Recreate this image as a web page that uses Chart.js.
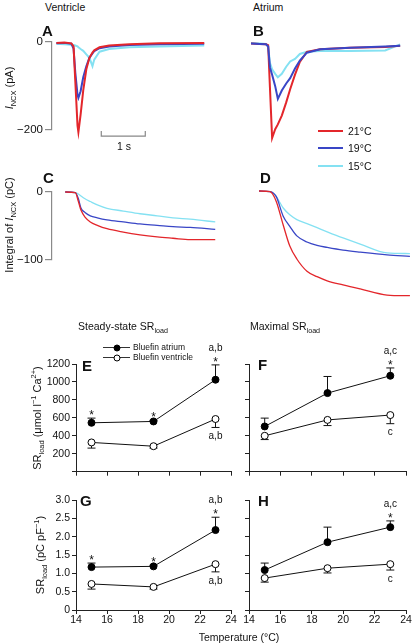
<!DOCTYPE html>
<html><head><meta charset="utf-8">
<script src="https://cdn.jsdelivr.net/npm/chart.js@4.4.1/dist/chart.umd.min.js"></script>
<style>
html,body{margin:0;padding:0;background:#fff;}
body{width:420px;height:643px;position:relative;overflow:hidden;font-family:"Liberation Sans",Arial,Helvetica,sans-serif;color:#111;}
canvas{position:absolute;}
.t{position:absolute;white-space:nowrap;line-height:1;transform:translateY(-50%);}
.c{position:absolute;white-space:nowrap;line-height:1;transform:translate(-50%,-50%);}
.rot{position:absolute;white-space:nowrap;line-height:1;transform:translate(-50%,-50%) rotate(-90deg);}
.pl{position:absolute;font-weight:bold;font-size:15px;line-height:1;transform:translateY(-50%);}
sub,sup{font-size:68%;line-height:0;}
.ln{position:absolute;height:0;}
.dot{position:absolute;width:7px;height:7px;border-radius:50%;box-sizing:border-box;border:1px solid #000;transform:translate(-50%,-50%);}
</style></head><body>
<canvas id="cA"></canvas><canvas id="cB"></canvas><canvas id="cC"></canvas><canvas id="cD"></canvas>
<canvas id="cE"></canvas><canvas id="cF"></canvas><canvas id="cG"></canvas><canvas id="cH"></canvas>

<div class="t" style="left:45px;top:7px;font-size:10.5px">Ventricle</div>
<div class="t" style="left:253px;top:7px;font-size:10.5px">Atrium</div>
<div class="pl" style="left:42px;top:30px">A</div>
<div class="pl" style="left:253px;top:30px">B</div>
<div class="pl" style="left:43px;top:177px">C</div>
<div class="pl" style="left:260px;top:177px">D</div>
<div class="pl" style="left:82px;top:365px">E</div>
<div class="pl" style="left:258px;top:364px">F</div>
<div class="pl" style="left:80px;top:500px">G</div>
<div class="pl" style="left:258px;top:500px">H</div>

<div class="rot" style="left:9px;top:88px;font-size:11px"><i>I</i><sub>NCX</sub> (pA)</div>
<div class="rot" style="left:9px;top:225px;font-size:11px">Integral of <i>I</i><sub>NCX</sub> (pC)</div>
<div class="rot" style="left:37px;top:418px;font-size:11px">SR<sub>load</sub> (μmol l<sup>−1</sup> Ca<sup>2+</sup>)</div>
<div class="rot" style="left:40px;top:555px;font-size:11px">SR<sub>load</sub> (pC pF<sup>−1</sup>)</div>
<div class="c" style="left:239px;top:637px;font-size:10.5px">Temperature (°C)</div>
<div class="c" style="left:124px;top:146px;font-size:10.5px">1 s</div>

<div class="t" style="left:78px;top:326px;font-size:10.5px">Steady-state SR<sub>load</sub></div>
<div class="t" style="left:250px;top:326px;font-size:10.5px">Maximal SR<sub>load</sub></div>

<div class="ln" style="left:318px;top:130px;width:25px;border-top:2px solid #e3262b"></div>
<div class="t" style="left:348px;top:131px;font-size:10.5px">21°C</div>
<div class="ln" style="left:318px;top:147px;width:25px;border-top:2px solid #3946c6"></div>
<div class="t" style="left:348px;top:148px;font-size:10.5px">19°C</div>
<div class="ln" style="left:318px;top:165px;width:25px;border-top:2px solid #84e1f2"></div>
<div class="t" style="left:348px;top:166px;font-size:10.5px">15°C</div>

<div class="ln" style="left:103px;top:347px;width:27px;border-top:1px solid #333"></div>
<div class="dot" style="left:117px;top:347.5px;background:#000"></div>
<div class="t" style="left:133px;top:347px;font-size:8.5px">Bluefin atrium</div>
<div class="ln" style="left:103px;top:357px;width:27px;border-top:1px solid #333"></div>
<div class="dot" style="left:117px;top:357.5px;background:#fff"></div>
<div class="t" style="left:133px;top:357px;font-size:8.5px">Bluefin ventricle</div>

<script>
// ---------- Data ----------
// Panel A (ventricle I_NCX, pA) vs time (s)
const tA    = [0, 0.18, 0.34, 0.39, 0.43, 0.48, 0.50, 0.55, 0.61, 0.68, 0.75, 0.82, 0.86, 0.98, 1.20, 1.66, 2.34, 3.36];
const aRed  = [-2, -1, -3, -10, -90, -190, -205, -165, -110, -62, -36, -24, -19, -12, -8, -5, -3, -2];
const aBlue = [-3, -2, -4, -15, -70, -120, -127, -112, -80, -55, -36, -26, -21, -14, -10, -7, -5, -4];
const aCyan = [-4, -5, -6, -7, -8, -10, -12, -16, -20, -28, -36, -55, -40, -22, -16, -12, -10, -8];
const scaleBarT  = [1.02, 1.02, 2.02, 2.02];
const scaleBarPA = [-202, -214, -214, -202];

// Panel B (atrium I_NCX, pA)
const tB    = [0, 0.20, 0.34, 0.39, 0.43, 0.48, 0.55, 0.61, 0.70, 0.80, 0.89, 1.00, 1.11, 1.27, 1.57, 2.25, 3.05, 3.39];
const bRed  = [-1, -2, -3, -5, -100, -216, -196, -185, -165, -135, -105, -72, -43, -20, -14, -11, -9, -6];
const bBlue = [-1, -2, -3, -8, -55, -72, -98, -127, -108, -92, -80, -58, -40, -22, -14, -11, -8, -6];
const bCyan = [0, -1, -2, -8, -45, -60, -70, -78, -70, -54, -42, -36, -25, -20, -18, -18, -17, -3];

// Panel C (ventricle integral, pC)
const tC    = [0, 0.23, 0.30, 0.36, 0.45, 0.57, 0.73, 0.95, 1.32, 1.70, 2.09, 2.45, 2.84, 3.41];
const cRed  = [0, -1, -14, -27, -37, -44, -49, -54, -59, -63, -66, -68, -70, -70];
const cBlue = [0, -1, -10, -24, -30, -35, -38, -41, -44, -47, -49, -51, -52, -55];
const cCyan = [0, -1, -3, -6, -10, -14, -19, -24, -28, -32, -35, -38, -40, -44];

// Panel D (atrium integral, pC)
const tD    = [0, 0.25, 0.39, 0.55, 0.70, 0.86, 1.09, 1.32, 1.55, 1.91, 2.30, 2.91, 3.43];
const dRed  = [0, -1, -15, -50, -81, -100, -118, -126, -132, -138, -144, -153, -154];
const dBlue = [0, -1, -8, -37, -52, -66, -75, -80, -83, -87, -90, -94, -96];
const dCyan = [0, -1, -8, -25, -35, -42, -48, -54, -60, -69, -78, -91, -92];

// Panels E-H: temperature (°C)
const temps = [15, 19, 23];
// E steady-state SRload (µmol l-1 Ca2+)
const eAtrium = [545, 560, 1025], eAtriumErr = [52, 12, 165];
const eVent   = [326, 284, 587],  eVentErr   = [63, 21, 94];
const eAtriumStar = ['*', '*', '*'], eAtriumLetters = ['', '', 'a,b'], eVentLetters = ['', '', 'a,b'];
// F maximal SRload (µmol l-1 Ca2+)
const fAtrium = [504, 876, 1069], fAtriumErr = [93, 185, 87];
const fVent   = [400, 577, 631],  fVentErr   = [42, 63, 96];
const fAtriumStar = ['', '', '*'], fAtriumLetters = ['', '', 'a,c'], fVentLetters = ['', '', 'c'];
// G steady-state SRload (pC pF-1)
const gAtrium = [1.17, 1.19, 2.18], gAtriumErr = [0.11, 0.03, 0.35];
const gVent   = [0.71, 0.63, 1.25], gVentErr   = [0.14, 0.06, 0.21];
const gAtriumStar = ['*', '*', '*'], gAtriumLetters = ['', '', 'a,b'], gVentLetters = ['', '', 'a,b'];
// H maximal SRload (pC pF-1)
const hAtrium = [1.09, 1.85, 2.26], hAtriumErr = [0.19, 0.41, 0.17];
const hVent   = [0.87, 1.14, 1.25], hVentErr   = [0.11, 0.13, 0.16];
const hAtriumStar = ['', '', '*'], hAtriumLetters = ['', '', 'a,c'], hVentLetters = ['', '', 'c'];

// ---------- Helpers ----------
const FONT = '"Liberation Sans", Arial, Helvetica, sans-serif';
const RED = '#e3262b', BLUE = '#3946c6', CYAN = '#84e1f2';
function pts(xs, ys){ return xs.map((x,i)=>({x:x, y:ys[i]})); }
function place(id, L, T, W, H){
  const c = document.getElementById(id);
  c.width = W; c.height = H;
  c.style.left = L+'px'; c.style.top = T+'px'; c.style.width = W+'px'; c.style.height = H+'px';
  return c;
}
function traceDs(xs, ys, color, w, smooth){
  return {data: pts(xs, ys), borderColor: color, borderWidth: w, pointRadius: 0, fill: false, clip: false,
          tension: 0, cubicInterpolationMode: smooth ? 'monotone' : 'default'};
}
const baseOpts = {responsive:false, animation:false, devicePixelRatio:1, events:[],
  plugins:{legend:{display:false}, tooltip:{enabled:false}}};

function traceChart(id, box, pad, xr, yr, datasets, yAxis){
  const c = place(id, box[0], box[1], box[2], box[3]);
  const yScale = yAxis ? {
      type:'linear', min:yr[0], max:yr[1], display:true,
      ticks:{stepSize: yAxis.step, font:{family:FONT, size:11.5}, color:'#111', padding:2,
             callback: v => v === 0 ? '0' : '\u2212' + Math.abs(v)},
      grid:{display:true, drawOnChartArea:false, drawTicks:true, tickLength:7, color:'#8a8a8a', lineWidth:1.2},
      border:{display:true, color:'#8a8a8a', width:1.2},
      afterFit: s => { s.width = yAxis.width; }
    } : {type:'linear', min:yr[0], max:yr[1], display:false};
  return new Chart(c, {type:'line', data:{datasets:datasets},
    options: Object.assign({}, baseOpts, {
      layout:{padding:pad},
      scales:{x:{type:'linear', min:xr[0], max:xr[1], display:false}, y:yScale}
    })});
}

// Error bar + annotation plugin (uses chart scales)
const errPlugin = {
  id:'errbars',
  beforeDatasetsDraw(chart){
    const o = chart.options.plugins.errbars; if(!o || !o.groups) return;
    const ctx = chart.ctx, xs = chart.scales.x, ys = chart.scales.y;
    ctx.save(); ctx.strokeStyle = '#111'; ctx.lineWidth = 1;
    o.groups.forEach(g => g.vals.forEach((v,i) => {
      const e = g.errs[i]; if(!e) return;
      const x = xs.getPixelForValue(temps[i]);
      const y0 = ys.getPixelForValue(v), y1 = ys.getPixelForValue(v + g.dir*e);
      ctx.beginPath(); ctx.moveTo(x, y0); ctx.lineTo(x, y1);
      ctx.moveTo(x-4, y1); ctx.lineTo(x+4, y1); ctx.stroke();
    }));
    ctx.restore();
  },
  afterDatasetsDraw(chart){
    const o = chart.options.plugins.errbars; if(!o || !o.groups) return;
    const ctx = chart.ctx, xs = chart.scales.x, ys = chart.scales.y;
    ctx.save(); ctx.fillStyle = '#111'; ctx.textAlign = 'center';
    o.groups.forEach(g => g.vals.forEach((v,i) => {
      const x = xs.getPixelForValue(temps[i]);
      const yEnd = ys.getPixelForValue(v + g.dir*(g.errs[i]||0));
      if(g.dir > 0){
        let yc = yEnd - 6;
        if(g.star && g.star[i]){
          ctx.font = '12px ' + FONT; ctx.textBaseline = 'alphabetic';
          ctx.fillText(g.star[i], x, yc + 7);
          yc -= 11;
        }
        if(g.letters && g.letters[i]){
          ctx.font = '10px ' + FONT; ctx.textBaseline = 'middle';
          ctx.fillText(g.letters[i], x, yc);
        }
      } else if(g.letters && g.letters[i]){
        ctx.font = '10px ' + FONT; ctx.textBaseline = 'middle';
        ctx.fillText(g.letters[i], x, yEnd + 9);
      }
    }));
    ctx.restore();
  }
};

function srChart(id, box, pad, yMax, yStep, yW, xH, showY, showX, atr, atrErr, ven, venErr, star, aLet, vLet){
  const c = place(id, box[0], box[1], box[2], box[3]);
  const fmtY = v => v === 0 ? (yStep < 1 ? '0' : '') : (yStep < 1 ? v.toFixed(1) : String(v));
  return new Chart(c, {type:'line',
    data:{datasets:[
      {data: pts(temps, atr), borderColor:'#111', borderWidth:1, tension:0, clip:false,
       pointRadius:3.5, pointBackgroundColor:'#000', pointBorderColor:'#000', pointBorderWidth:1},
      {data: pts(temps, ven), borderColor:'#111', borderWidth:1, tension:0, clip:false,
       pointRadius:3.5, pointBackgroundColor:'#fff', pointBorderColor:'#000', pointBorderWidth:1}
    ]},
    options: Object.assign({}, baseOpts, {
      layout:{padding:pad},
      plugins:{legend:{display:false}, tooltip:{enabled:false},
        errbars:{groups:[
          {vals:atr, errs:atrErr, dir:1, star:star, letters:aLet},
          {vals:ven, errs:venErr, dir:-1, letters:vLet}
        ]}},
      scales:{
        x:{type:'linear', min:14, max:24,
           ticks:{stepSize:2, autoSkip:false, maxRotation:0, padding:0, font:{family:FONT, size:10.5}, color:'#111',
                  callback: v => showX ? String(v) : ''},
           grid:{drawOnChartArea:false, drawTicks:true, tickLength:4, color:'#222', lineWidth:1},
           border:{display:true, color:'#222', width:1},
           afterFit: s => { s.height = xH; }},
        y:{type:'linear', min:0, max:yMax,
           ticks:{stepSize:yStep, autoSkip:false, padding:2, font:{family:FONT, size:10.5}, color:'#111',
                  callback: v => showY ? fmtY(v) : ''},
           grid:{drawOnChartArea:false, drawTicks:true, tickLength:4, color:'#222', lineWidth:1},
           border:{display:true, color:'#222', width:1},
           afterFit: s => { s.width = yW; }}
      }
    }),
    plugins:[errPlugin]});
}

// ---------- Charts ----------
traceChart('cA', [0,30,220,130], {left:0, right:9.6, top:12, bottom:30}, [-0.1, 3.5], [-200, 0], [
  {data: pts(scaleBarT, scaleBarPA), borderColor:'#888', borderWidth:1.2, pointRadius:0, tension:0, clip:false},
  traceDs(tA, aRed, RED, 2, false),
  traceDs(tA, aBlue, BLUE, 2, false),
  traceDs(tA, aCyan, CYAN, 2, false)
], {step:200, width:52});

traceChart('cB', [240,30,180,130], {left:6.6, right:15, top:13, bottom:29}, [-0.1, 3.5], [-200, 0], [
  traceDs(tB, bBlue, BLUE, 2, false),
  traceDs(tB, bRed, RED, 2, false),
  traceDs(tB, bCyan, CYAN, 2, false)
], null);

traceChart('cC', [0,170,230,110], {left:0, right:10.8, top:22, bottom:20}, [-0.3, 3.5], [-100, 0], [
  traceDs(tC, cRed, RED, 1.3, true),
  traceDs(tC, cBlue, BLUE, 1.3, true),
  traceDs(tC, cCyan, CYAN, 1.3, true)
], {step:100, width:52});

traceChart('cD', [240,170,180,140], {left:14.6, right:7, top:21, bottom:51}, [-0.1, 3.5], [-100, 0], [
  traceDs(tD, dRed, RED, 1.3, true),
  traceDs(tD, dBlue, BLUE, 1.3, true),
  traceDs(tD, dCyan, CYAN, 1.3, true)
], null);

srChart('cE', [0,328,240,152], {left:0, right:9, top:36, bottom:0}, 1200, 200, 76, 6, true, false,
  eAtrium, eAtriumErr, eVent, eVentErr, eAtriumStar, eAtriumLetters, eVentLetters);
srChart('cF', [200,328,220,152], {left:0, right:14, top:36, bottom:0}, 1200, 200, 49, 6, false, false,
  fAtrium, fAtriumErr, fVent, fVentErr, fAtriumStar, fAtriumLetters, fVentLetters);
srChart('cG', [0,482,240,148], {left:0, right:9, top:18, bottom:0}, 3, 0.5, 76, 20, true, true,
  gAtrium, gAtriumErr, gVent, gVentErr, gAtriumStar, gAtriumLetters, gVentLetters);
srChart('cH', [200,482,220,148], {left:0, right:14, top:18, bottom:0}, 3, 0.5, 49, 20, false, true,
  hAtrium, hAtriumErr, hVent, hVentErr, hAtriumStar, hAtriumLetters, hVentLetters);
</script>
</body></html>
